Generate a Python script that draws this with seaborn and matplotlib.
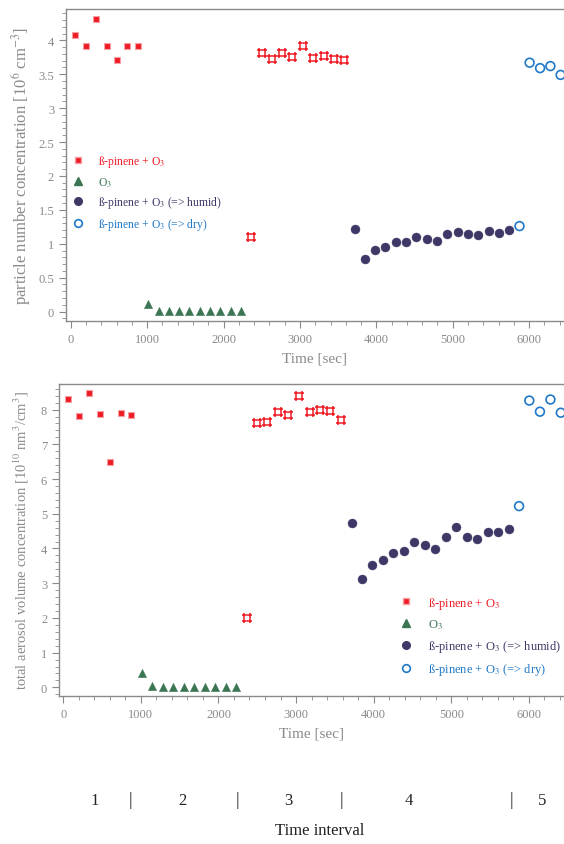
import numpy as np
import pandas as pd
import matplotlib
matplotlib.use("Agg")
import matplotlib.pyplot as plt
import seaborn as sns
from matplotlib.path import Path
from matplotlib.ticker import MultipleLocator, FuncFormatter
from matplotlib.lines import Line2D
from matplotlib import transforms

# ---------------- data ----------------
t_red1 = [60, 200, 335, 470, 605, 740, 875]
t_green = [1010, 1150, 1285, 1420, 1553, 1686, 1822, 1957, 2093, 2227]
t_red3 = [2362, 2500, 2632, 2768, 2902, 3035, 3175, 3310, 3442, 3580]
t_purple = [3715, 3848, 3985, 4119, 4253, 4388, 4524, 4658, 4792, 4929,
            5066, 5200, 5336, 5470, 5605, 5740]
t_blue = [5874, 6006, 6143, 6278, 6412]

num_red1 = [4.08, 3.92, 4.32, 3.91, 3.71, 3.92, 3.92]
num_green = [0.11, 0.01, 0.01, 0.01, 0.01, 0.01, 0.01, 0.01, 0.01, 0.01]
num_red3 = [1.10, 3.81, 3.72, 3.82, 3.76, 3.91, 3.74, 3.77, 3.73, 3.71]
num_purple = [1.21, 0.78, 0.91, 0.95, 1.03, 1.02, 1.10, 1.07, 1.04, 1.14,
              1.17, 1.14, 1.13, 1.19, 1.16, 1.20]
num_blue = [1.26, 3.67, 3.59, 3.62, 3.49]

vol_red1 = [8.31, 7.81, 8.47, 7.86, 6.50, 7.91, 7.85]
vol_green = [0.41, 0.05, 0.01, 0.01, 0.01, 0.01, 0.01, 0.01, 0.01, 0.01]
vol_red3 = [1.99, 7.62, 7.64, 7.92, 7.85, 8.39, 7.92, 7.99, 7.96, 7.71]
vol_purple = [4.73, 3.13, 3.52, 3.67, 3.88, 3.92, 4.20, 4.09, 3.99, 4.34,
              4.63, 4.34, 4.27, 4.47, 4.47, 4.55]
vol_blue = [5.22, 8.26, 7.94, 8.29, 7.91]

legend_labels = ["ß-pinene + O$_3$", "O$_3$",
                 "ß-pinene + O$_3$ (=> humid)", "ß-pinene + O$_3$ (=> dry)"]

interval_labels = ["1", "2", "3", "4", "5"]
interval_centers = [400, 1535, 2905, 4450, 6170]
interval_bounds = [860, 2240, 3590, 5770]

# ---------------- style ----------------
sns.set_theme(style="ticks")
plt.rcParams["font.family"] = ["Liberation Serif", "DejaVu Serif"]
plt.rcParams["mathtext.fontset"] = "stix"

RED = "#ee1c25"
GREEN = "#3b7553"
PURPLE = "#3d3866"
BLUE = "#1f78c8"
GREY = "#8a8a8a"

# hash-like open square marker
verts = [(-0.85, 0.5), (0.85, 0.5), (-0.85, -0.5), (0.85, -0.5),
         (-0.5, -0.85), (-0.5, 0.85), (0.5, -0.85), (0.5, 0.85)]
codes = [Path.MOVETO, Path.LINETO] * 4
hash_marker = Path(verts, codes)

fig = plt.figure(figsize=(5.64, 8.45), dpi=100)
ax1 = fig.add_axes([0.117, 0.619, 0.883, 0.369])
ax2 = fig.add_axes([0.1046, 0.1755, 0.8954, 0.369])


def draw(ax, y_red1, y_green, y_red3, y_purple, y_blue):
    sns.scatterplot(x=t_red1, y=y_red1, ax=ax, marker="s", s=22,
                    color=RED, edgecolor="#f6a0a4", linewidth=0.8, zorder=3)
    sns.scatterplot(x=t_green, y=y_green, ax=ax, marker="^", s=36,
                    color=GREEN, edgecolor=GREEN, linewidth=0.3, zorder=3)
    ax.scatter(t_red3, y_red3, marker=hash_marker, s=55,
               color=RED, linewidths=1.1, zorder=3)
    sns.scatterplot(x=t_purple, y=y_purple, ax=ax, marker="o", s=42,
                    color=PURPLE, edgecolor=PURPLE, linewidth=0.3, zorder=3)
    sns.scatterplot(x=t_blue, y=y_blue, ax=ax, marker="o", s=40,
                    facecolor="none", edgecolor=BLUE, linewidth=1.2, zorder=3)


draw(ax1, num_red1, num_green, num_red3, num_purple, num_blue)
draw(ax2, vol_red1, vol_green, vol_red3, vol_purple, vol_blue)

ax1.set_xlim(-62, 6456)
ax1.set_ylim(-0.139, 4.46)
ax2.set_xlim(-55, 6453)
ax2.set_ylim(-0.24, 8.74)

fmt = FuncFormatter(lambda v, p: f"{v:g}")
for ax, ymaj, ymin in [(ax1, 0.5, 0.1), (ax2, 1, 0.2)]:
    ax.xaxis.set_major_locator(MultipleLocator(1000))
    ax.xaxis.set_minor_locator(MultipleLocator(200))
    ax.yaxis.set_major_locator(MultipleLocator(ymaj))
    ax.yaxis.set_minor_locator(MultipleLocator(ymin))
    ax.yaxis.set_major_formatter(fmt)
    ax.xaxis.set_major_formatter(fmt)
    ax.tick_params(which="major", length=5, width=0.8, color=GREY,
                   labelcolor=GREY, labelsize=9, direction="out")
    ax.tick_params(which="minor", length=3, width=0.6, color=GREY,
                   direction="out")
    for side in ["left", "bottom", "top"]:
        ax.spines[side].set_color(GREY)
        ax.spines[side].set_linewidth(1.0)
    ax.spines["right"].set_visible(False)
    ax.set_xlabel("Time [sec]", color=GREY, fontsize=11, labelpad=5)
    ax.set_facecolor("white")

ax1.set_ylabel("particle number concentration [10$^6$ cm$^{-3}$]",
               color=GREY, fontsize=12, labelpad=4)
ax2.set_ylabel("total aerosol volume concentration [10$^{10}$ nm$^3$/cm$^3$]",
               color=GREY, fontsize=10.5, labelpad=7)

handles = [
    Line2D([], [], ls="none", marker="s", ms=4, color=RED,
           markeredgecolor="#f6a0a4"),
    Line2D([], [], ls="none", marker="^", ms=5.5, color=GREEN),
    Line2D([], [], ls="none", marker="o", ms=5.5, color=PURPLE),
    Line2D([], [], ls="none", marker="o", ms=5.5, markerfacecolor="none",
           markeredgecolor=BLUE, markeredgewidth=1.2),
]
colors = [RED, GREEN, PURPLE, BLUE]

ax1.legend(handles, legend_labels, loc="center left",
           bbox_to_anchor=(0.0104, 0.411), frameon=False, fontsize=8.4,
           labelcolor=colors, handletextpad=1.1, labelspacing=0.5,
           borderaxespad=0, borderpad=0, handlelength=1.2)
ax2.legend(handles, legend_labels, loc="center left",
           bbox_to_anchor=(0.672, 0.192), frameon=False, fontsize=9,
           labelcolor=colors, handletextpad=1.2, labelspacing=0.55,
           borderaxespad=0, borderpad=0, handlelength=1.2)

# time interval annotation below lower panel
trans = transforms.blended_transform_factory(ax2.transData, fig.transFigure)
for xc, lab in zip(interval_centers, interval_labels):
    fig.text(xc, 0.0525, lab, transform=trans, ha="center", va="center",
             fontsize=12, color="#222222")
for xb in interval_bounds:
    fig.text(xb, 0.0525, "|", transform=trans, ha="center", va="center",
             fontsize=13, color="#222222")
fig.text(0.567, 0.0165, "Time interval", ha="center", va="center",
         fontsize=12, color="#222222")

fig.savefig("out.png", dpi=100, facecolor="white")
